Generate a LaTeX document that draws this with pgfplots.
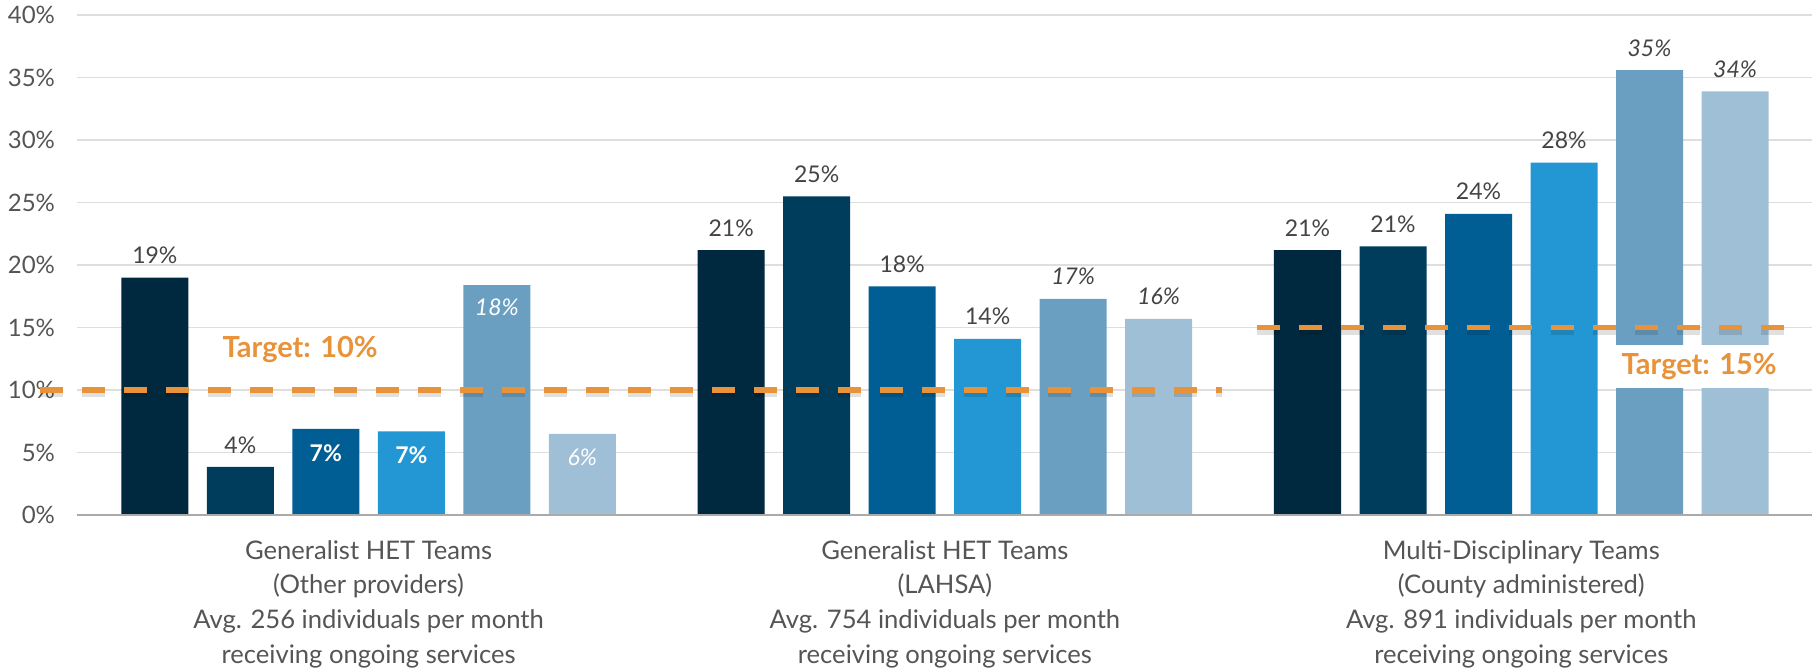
\documentclass[border=0pt]{standalone}
\usepackage{fontspec}
\setmainfont{Lato}
\usepackage{pgfplots}
\pgfplotsset{compat=1.18}
\usepackage{pgfplotstable}

\definecolor{cA}{HTML}{00283E}
\definecolor{cB}{HTML}{003C5C}
\definecolor{cC}{HTML}{005E94}
\definecolor{cD}{HTML}{2397D4}
\definecolor{cE}{HTML}{6B9FC2}
\definecolor{cF}{HTML}{9FBFD6}
\definecolor{tgt}{HTML}{E8923A}
\definecolor{lbl}{HTML}{444444}
\definecolor{tickc}{HTML}{555555}
\definecolor{gridc}{HTML}{DEDEDE}
\definecolor{basec}{HTML}{AAAAAA}

% x = group offset (0, 6.74, 13.48) + position in group
\pgfplotstableread{
x y dy label
0     19.0  11 {19\%}
6.74  21.2  11 {21\%}
13.48 21.2  11 {21\%}
}\serA
\pgfplotstableread{
x y dy label
1     3.85  11 {4\%}
7.74  25.5  11 {25\%}
14.48 21.5  11 {21\%}
}\serB
\pgfplotstableread{
x y dy label
2     6.9   -12 {\color{white}\bfseries 7\%}
8.74  18.3  11  {18\%}
15.48 24.1  11  {24\%}
}\serC
\pgfplotstableread{
x y dy label
3     6.7   -12 {\color{white}\bfseries 7\%}
9.74  14.1  11  {14\%}
16.48 28.2  11  {28\%}
}\serD
\pgfplotstableread{
x y dy label
4     18.4  -11 {\color{white}\itshape 18\%}
10.74 17.3  11  {\itshape 17\%}
17.48 35.6  11  {\itshape 35\%}
}\serE
\pgfplotstableread{
x y dy label
5     6.5   -12 {\color{white}\itshape 6\%}
11.74 15.7  11  {\itshape 16\%}
18.48 33.9  11  {\itshape 34\%}
}\serF

\pgfplotsset{
  mybar/.style={
    ybar, bar width=0.784, bar shift=0, draw=none, fill=#1,
    nodes near coords,
    point meta=explicit symbolic,
    visualization depends on={\thisrow{dy} \as \dy},
    every node near coord/.style={anchor=center, yshift=\dy pt,
      font=\fontsize{11.5}{13}\selectfont, text=lbl, inner sep=0pt},
  },
}

\begin{document}
\begin{tikzpicture}
\begin{axis}[
  scale only axis,
  width=867.5pt, height=250pt,
  xmin=-0.91, xmax=19.38,
  ymin=0, ymax=40,
  clip=false,
  axis line style={draw=none},
  major tick length=0pt,
  ytick={0,5,...,40},
  yticklabel={\pgfmathprintnumber{\tick}\%},
  /pgf/number format/assume math mode=true,
  yticklabel style={font=\fontsize{12}{14}\selectfont, text=tickc, xshift=-7.5pt},
  ymajorgrids,
  grid style={draw=gridc, line width=0.7pt},
  xtick={2.5, 9.24, 15.98},
  xticklabels={
    {Generalist HET Teams\\(Other providers)\\Avg. 256 individuals per month\\receiving ongoing services},
    {Generalist HET Teams\\(LAHSA)\\Avg. 754 individuals per month\\receiving ongoing services},
    {Multi-Disciplinary Teams\\(County administered)\\Avg. 891 individuals per month\\receiving ongoing services}},
  xticklabel style={align=center, text=tickc,
    font=\fontsize{12.8}{17.3}\selectfont, yshift=-9.2pt},
]
\addplot[mybar=cA] table[x=x, y=y, meta=label] {\serA};
\addplot[mybar=cB] table[x=x, y=y, meta=label] {\serB};
\addplot[mybar=cC] table[x=x, y=y, meta=label] {\serC};
\addplot[mybar=cD] table[x=x, y=y, meta=label] {\serD};
\addplot[mybar=cE] table[x=x, y=y, meta=label] {\serE};
\addplot[mybar=cF] table[x=x, y=y, meta=label] {\serF};

\draw[basec, line width=0.8pt] (axis cs:-0.91,0) -- (axis cs:19.38,0);

% cut-out behind the second target label
\fill[white] (axis cs:17.0,10.15) rectangle (axis cs:19.38,13.6);

% target lines with a light shadow
\draw[black, opacity=0.12, line width=3.4pt, dash pattern=on 11.5pt off 9.5pt, yshift=-1.8pt]
  (axis cs:-1.344,10) -- (axis cs:12.48,10);
\draw[tgt, line width=2.9pt, dash pattern=on 11.5pt off 9.5pt]
  (axis cs:-1.344,10) -- (axis cs:12.48,10);
\draw[black, opacity=0.12, line width=3.4pt, dash pattern=on 11.5pt off 9.5pt, yshift=-1.8pt]
  (axis cs:12.89,15) -- (axis cs:19.21,15);
\draw[tgt, line width=2.9pt, dash pattern=on 11.5pt off 9.5pt]
  (axis cs:12.89,15) -- (axis cs:19.21,15);

\node[text=tgt, font=\fontsize{14.5}{16}\selectfont\bfseries] at (axis cs:1.70,13.2) {Target: 10\%};
\node[text=tgt, font=\fontsize{14.5}{16}\selectfont\bfseries] at (axis cs:18.06,11.85) {Target: 15\%};
\end{axis}
\pgfresetboundingbox
\path[use as bounding box] ([xshift=-38.5pt,yshift=-77.5pt]current axis.south west)
  rectangle ([yshift=7.5pt]current axis.north east);
\end{tikzpicture}
\end{document}
